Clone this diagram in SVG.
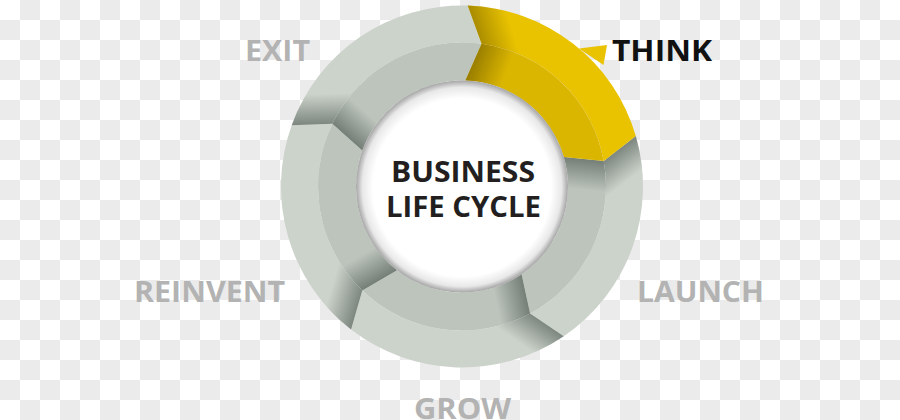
<svg xmlns="http://www.w3.org/2000/svg" width="900" height="420" viewBox="0 0 900 420">
  <defs>
    <pattern id="checker" x="0" y="0" width="40" height="40" patternUnits="userSpaceOnUse">
      <rect width="40" height="40" fill="#ffffff"/>
      <rect x="20" y="0" width="20" height="20" fill="#ebebeb"/>
      <rect x="0" y="20" width="20" height="20" fill="#ebebeb"/>
    </pattern>
    <path id="outerPiece" d="M 15.05,-143.21 L 0,-181 A 181 181 0 0 1 172.14,-55.93 L 140.85,-29.94 A 144 144 0 0 0 15.05,-143.21 Z"/>
    <path id="innerPiece" d="M 0,-106 L 15.05,-143.21 A 144 144 0 0 1 140.85,-29.94 L 100.81,-32.76 A 106 106 0 0 0 0,-106 Z"/>
    <linearGradient id="shadeOuter" gradientUnits="userSpaceOnUse" x1="7.5" y1="-162" x2="36" y2="-173">
      <stop offset="0" stop-color="#1c2a22" stop-opacity="0.45"/>
      <stop offset="1" stop-color="#1c2a22" stop-opacity="0"/>
    </linearGradient>
    <linearGradient id="shadeInner" gradientUnits="userSpaceOnUse" x1="7.5" y1="-124.5" x2="36" y2="-113">
      <stop offset="0" stop-color="#1c2a22" stop-opacity="0.45"/>
      <stop offset="1" stop-color="#1c2a22" stop-opacity="0"/>
    </linearGradient>
    <linearGradient id="shadeOuterY" gradientUnits="userSpaceOnUse" x1="7.5" y1="-162" x2="40" y2="-173">
      <stop offset="0" stop-color="#4a3a00" stop-opacity="0.4"/>
      <stop offset="1" stop-color="#4a3a00" stop-opacity="0"/>
    </linearGradient>
    <linearGradient id="shadeInnerY" gradientUnits="userSpaceOnUse" x1="7.5" y1="-124.5" x2="40" y2="-113">
      <stop offset="0" stop-color="#4a3a00" stop-opacity="0.45"/>
      <stop offset="1" stop-color="#4a3a00" stop-opacity="0"/>
    </linearGradient>
    <radialGradient id="hubFill" cx="50%" cy="50%" r="50%" fx="50%" fy="53%">
      <stop offset="0" stop-color="#ffffff"/>
      <stop offset="0.84" stop-color="#ffffff"/>
      <stop offset="0.94" stop-color="#e8e8e8"/>
      <stop offset="1" stop-color="#a5a5a5"/>
    </radialGradient>
    <style>
      .gOut { fill: #ccd3cb; }
      .gIn { fill: #bcc4bc; }
      .yOut { fill: #e9c300; }
      .yIn { fill: #dbb600; }
      .label { font-family: "Open Sans", "Liberation Sans", sans-serif; font-weight: 700; font-size: 29px; }
      .dim { fill: #b3b3b3; }
      .act { fill: #111111; }
      .center { font-family: "Open Sans", "Liberation Sans", sans-serif; font-weight: 700; font-size: 28px; fill: #231f20; }
    </style>
  </defs>

  <rect width="900" height="420" fill="url(#checker)"/>

  <g id="connectors"/>

  <g id="seg-launch" transform="translate(462,186.5) rotate(73.8)">
    <use href="#outerPiece" class="gOut"/>
    <use href="#outerPiece" fill="url(#shadeOuter)"/>
    <use href="#innerPiece" class="gIn"/>
    <use href="#innerPiece" fill="url(#shadeInner)"/>
  </g>
  <g id="seg-grow" transform="translate(462,186.5) rotate(145.8)">
    <use href="#outerPiece" class="gOut"/>
    <use href="#outerPiece" fill="url(#shadeOuter)"/>
    <use href="#innerPiece" class="gIn"/>
    <use href="#innerPiece" fill="url(#shadeInner)"/>
  </g>
  <g id="seg-reinvent" transform="translate(462,186.5) rotate(217.8)">
    <use href="#outerPiece" class="gOut"/>
    <use href="#outerPiece" fill="url(#shadeOuter)"/>
    <use href="#innerPiece" class="gIn"/>
    <use href="#innerPiece" fill="url(#shadeInner)"/>
  </g>
  <g id="seg-exit" transform="translate(462,186.5) rotate(289.8)">
    <use href="#outerPiece" class="gOut"/>
    <use href="#outerPiece" fill="url(#shadeOuter)"/>
    <use href="#innerPiece" class="gIn"/>
    <use href="#innerPiece" fill="url(#shadeInner)"/>
  </g>
  <g id="seg-think">
    <g transform="translate(462,186.5) rotate(1.8)">
      <use href="#outerPiece" class="yOut"/>
      <use href="#outerPiece" fill="url(#shadeOuterY)"/>
      <use href="#innerPiece" class="yIn"/>
      <use href="#innerPiece" fill="url(#shadeInnerY)"/>
    </g>
    <polygon points="579,48.5 607,45 603.5,65" class="yOut"/>
  </g>

  <g id="hub">
    <circle cx="462" cy="186.5" r="106" fill="url(#hubFill)"/>
    <text class="center" x="391" y="182" textLength="144" lengthAdjust="spacingAndGlyphs">BUSINESS</text>
    <text class="center" x="386" y="217" textLength="155" lengthAdjust="spacingAndGlyphs">LIFE CYCLE</text>
  </g>

  <g id="label-exit"><text class="label dim" x="245" y="61" textLength="65" lengthAdjust="spacingAndGlyphs">EXIT</text></g>
  <g id="label-think"><text class="label act" x="612" y="61" textLength="100" lengthAdjust="spacingAndGlyphs">THINK</text></g>
  <g id="label-launch"><text class="label dim" x="637" y="302" textLength="127" lengthAdjust="spacingAndGlyphs">LAUNCH</text></g>
  <g id="label-grow"><text class="label dim" x="414" y="419" textLength="97" lengthAdjust="spacingAndGlyphs">GROW</text></g>
  <g id="label-reinvent"><text class="label dim" x="134" y="302" textLength="151" lengthAdjust="spacingAndGlyphs">REINVENT</text></g>
</svg>
